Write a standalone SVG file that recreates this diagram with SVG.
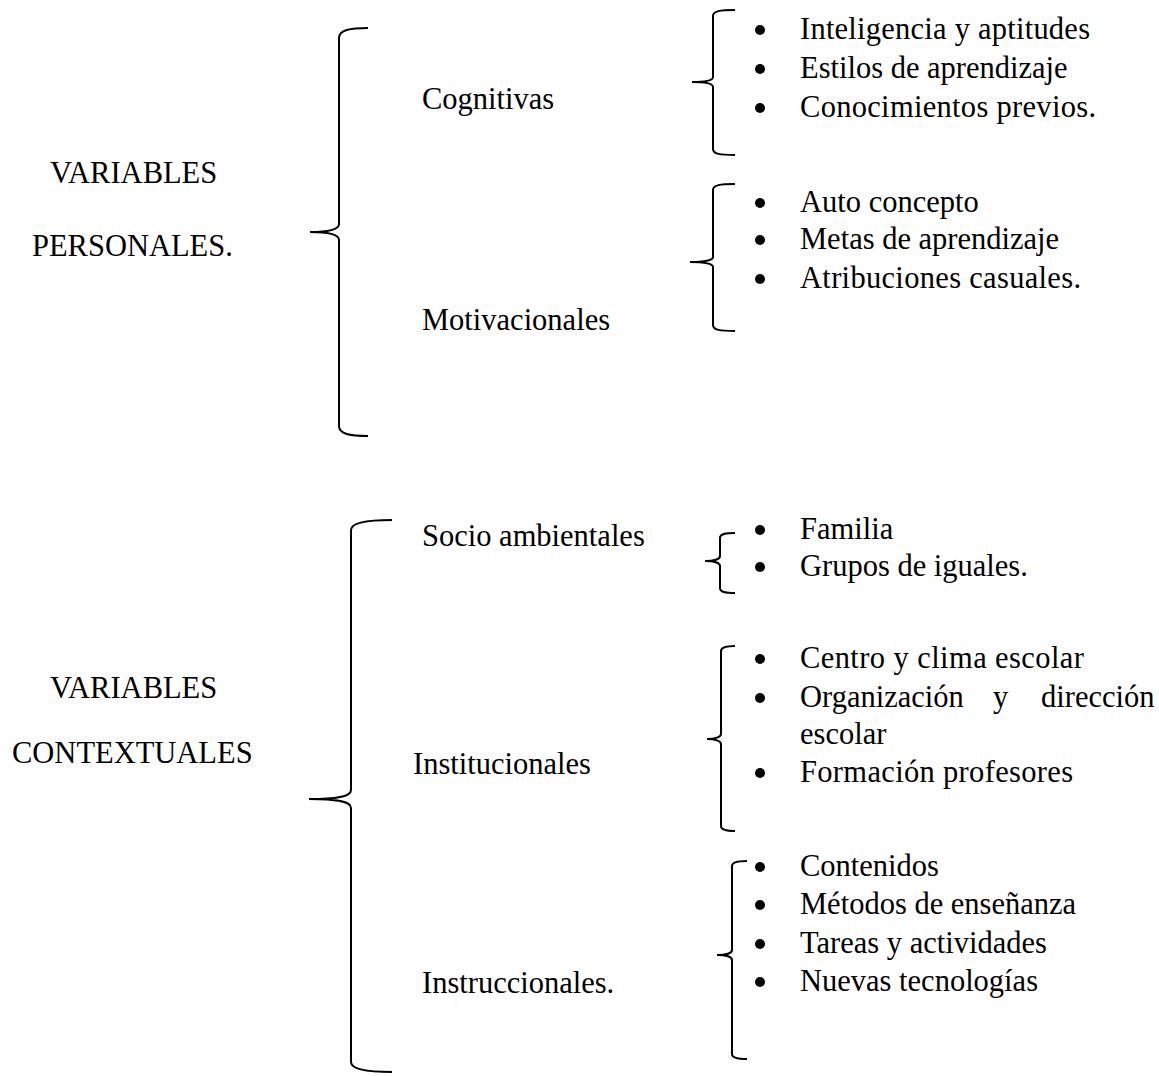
<svg xmlns="http://www.w3.org/2000/svg" width="1159" height="1076" viewBox="0 0 1159 1076">
<style>
text{font-family:"Liberation Serif","Times New Roman",serif;font-size:30.5px;fill:#000}
.br{fill:none;stroke:#000;stroke-width:2}
.bu{fill:#000}
</style>
<rect width="1159" height="1076" fill="#fff"/>
<g id="connectors">
<path class="br" d="M368,28 C350,28 339,30 339,38 L339,224 C339,229 331,232 310,232 C331,232 339,235 339,240 L339,426 C339,434 350,436 368,436"/>
<path class="br" d="M392,520 C370,520 351,522 351,530 L351,790 C351,796 340,799 309,799 C340,799 351,802 351,808 L351,1062 C351,1070 370,1072 392,1072"/>
<path class="br" d="M735,10 C720,10 713,11 713,16 L713,77 C713,80 706,82 692,82 C706,82 713,84 713,87 L713,149 C713,154 720,155 735,155"/>
<path class="br" d="M735,184 C720,184 713,185 713,190 L713,257 C713,260 705,262 690,262 C705,262 713,264 713,267 L713,325 C713,330 720,331 735,331"/>
<path class="br" d="M735,533 C725,533 720,534 720,538 L720,556 C720,559 714,561 705,561 C714,561 720,563 720,566 L720,588 C720,592 725,593 735,593"/>
<path class="br" d="M735,646 C726,646 721,647 721,651 L721,734 C721,737 715,739 707,739 C715,739 721,741 721,744 L721,826 C721,830 726,831 735,831"/>
<path class="br" d="M747,861 C738,861 732,862 732,866 L732,950 C732,953 726,955 717,955 C726,955 732,957 732,960 L732,1054 C732,1058 738,1059 747,1059"/>
</g>
<g id="variables-personales">
<text x="50" y="183">VARIABLES</text>
<text x="32" y="256">PERSONALES.</text>
</g>
<g id="cognitivas">
<text x="422" y="109">Cognitivas</text>
</g>
<g id="cognitivas-items">
<circle class="bu" cx="760" cy="30" r="5"/><text x="800" y="39" textLength="290" lengthAdjust="spacing">Inteligencia  y aptitudes</text>
<circle class="bu" cx="760" cy="69" r="5"/><text x="800" y="78">Estilos de aprendizaje</text>
<circle class="bu" cx="760" cy="108" r="5"/><text x="800" y="117" textLength="296" lengthAdjust="spacing">Conocimientos  previos.</text>
</g>
<g id="motivacionales">
<text x="422" y="330">Motivacionales</text>
</g>
<g id="motivacionales-items">
<circle class="bu" cx="760" cy="203" r="5"/><text x="800" y="212">Auto concepto</text>
<circle class="bu" cx="760" cy="240" r="5"/><text x="800" y="249">Metas de aprendizaje</text>
<circle class="bu" cx="760" cy="279" r="5"/><text x="800" y="288" textLength="281" lengthAdjust="spacing">Atribuciones  casuales.</text>
</g>
<g id="variables-contextuales">
<text x="50" y="698">VARIABLES</text>
<text x="12" y="763">CONTEXTUALES</text>
</g>
<g id="socio-ambientales">
<text x="422" y="546">Socio ambientales</text>
</g>
<g id="socio-items">
<circle class="bu" cx="760" cy="530" r="5"/><text x="800" y="539">Familia</text>
<circle class="bu" cx="760" cy="567" r="5"/><text x="800" y="576">Grupos de iguales.</text>
</g>
<g id="institucionales">
<text x="413" y="774">Institucionales</text>
</g>
<g id="institucionales-items">
<circle class="bu" cx="760" cy="659" r="5"/><text x="800" y="668" textLength="284" lengthAdjust="spacing">Centro y clima  escolar</text>
<circle class="bu" cx="760" cy="698" r="5"/><text x="800" y="707">Organización</text><text x="993" y="707">y</text><text x="1041" y="707">dirección</text>
<text x="800" y="744">escolar</text>
<circle class="bu" cx="760" cy="773" r="5"/><text x="800" y="782" textLength="273" lengthAdjust="spacing">Formación  profesores</text>
</g>
<g id="instruccionales">
<text x="422" y="993">Instruccionales.</text>
</g>
<g id="instruccionales-items">
<circle class="bu" cx="760" cy="867" r="5"/><text x="800" y="876">Contenidos</text>
<circle class="bu" cx="760" cy="905" r="5"/><text x="800" y="914">Métodos de enseñanza</text>
<circle class="bu" cx="760" cy="944" r="5"/><text x="800" y="953">Tareas y actividades</text>
<circle class="bu" cx="760" cy="982" r="5"/><text x="800" y="991">Nuevas tecnologías</text>
</g>
</svg>
